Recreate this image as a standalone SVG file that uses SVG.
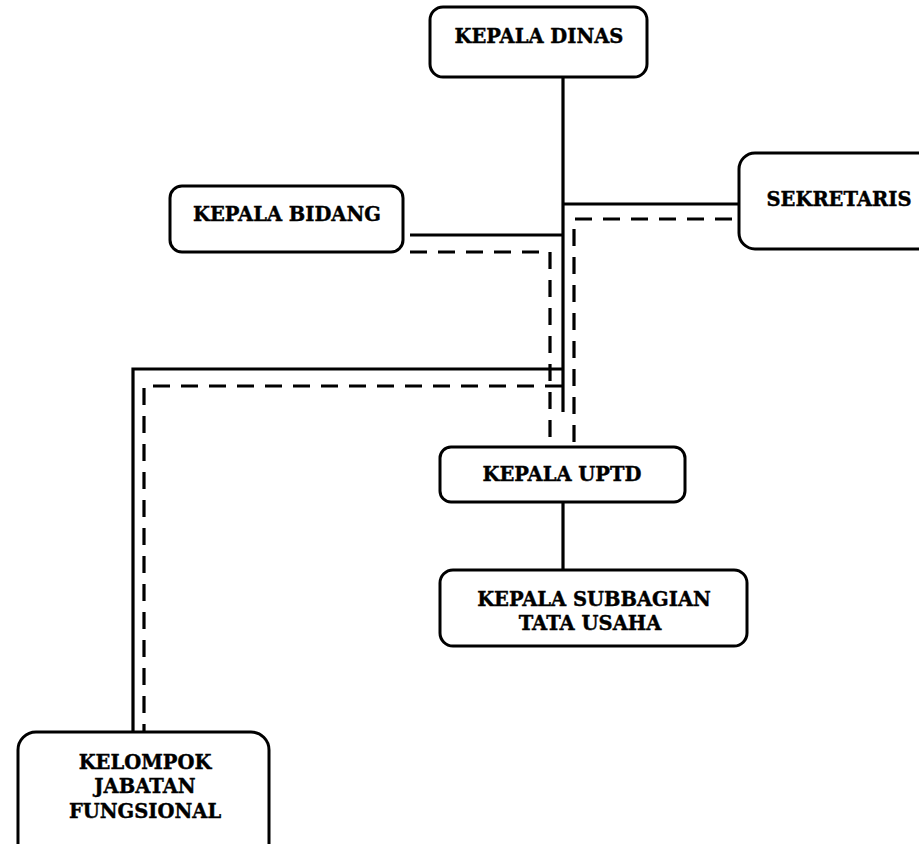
<svg xmlns="http://www.w3.org/2000/svg" width="919" height="844" viewBox="0 0 919 844">
<style>
.box{fill:#fff;stroke:#000;stroke-width:3}
.t{font-family:"DejaVu Serif","Liberation Serif",serif;font-weight:bold;font-size:19.5px;fill:#000;stroke:#000;stroke-width:0.4;text-anchor:middle}
.s{fill:none;stroke:#000;stroke-width:3.2}
.d{fill:none;stroke:#000;stroke-width:3.2;stroke-dasharray:17 11}
</style>
<rect width="919" height="844" fill="#fff"/>
<g id="connectors">
<path class="s" d="M563 77V412"/>
<path class="s" d="M563 204H739"/>
<path class="d" d="M732 219H574V443"/>
<path class="s" d="M410 235H563"/>
<path class="d" d="M410 252H550V440"/>
<path class="s" d="M563 369H133V732"/>
<path class="d" d="M562 386H144V732"/>
<path class="s" d="M563 502V570"/>
</g>
<g id="kepala-dinas">
<rect class="box" x="430" y="7" width="217" height="70" rx="13"/>
<text class="t" x="539" y="43">KEPALA DINAS</text>
</g>
<g id="sekretaris">
<rect class="box" x="739" y="153" width="200" height="96" rx="16"/>
<text class="t" x="839" y="206">SEKRETARIS</text>
</g>
<g id="kepala-bidang">
<rect class="box" x="170" y="186" width="233" height="66" rx="12"/>
<text class="t" x="287" y="221">KEPALA BIDANG</text>
</g>
<g id="kepala-uptd">
<rect class="box" x="440" y="447" width="245" height="55" rx="11"/>
<text class="t" x="562" y="481">KEPALA UPTD</text>
</g>
<g id="kepala-subbagian">
<rect class="box" x="440" y="570" width="307" height="76" rx="13"/>
<text class="t" x="594" y="606">KEPALA SUBBAGIAN</text>
<text class="t" x="590" y="630">TATA USAHA</text>
</g>
<g id="kelompok-jabatan">
<rect class="box" x="18" y="732" width="251" height="130" rx="18"/>
<text class="t" x="145" y="769">KELOMPOK</text>
<text class="t" x="145" y="793">JABATAN</text>
<text class="t" x="145" y="818">FUNGSIONAL</text>
</g>
</svg>
